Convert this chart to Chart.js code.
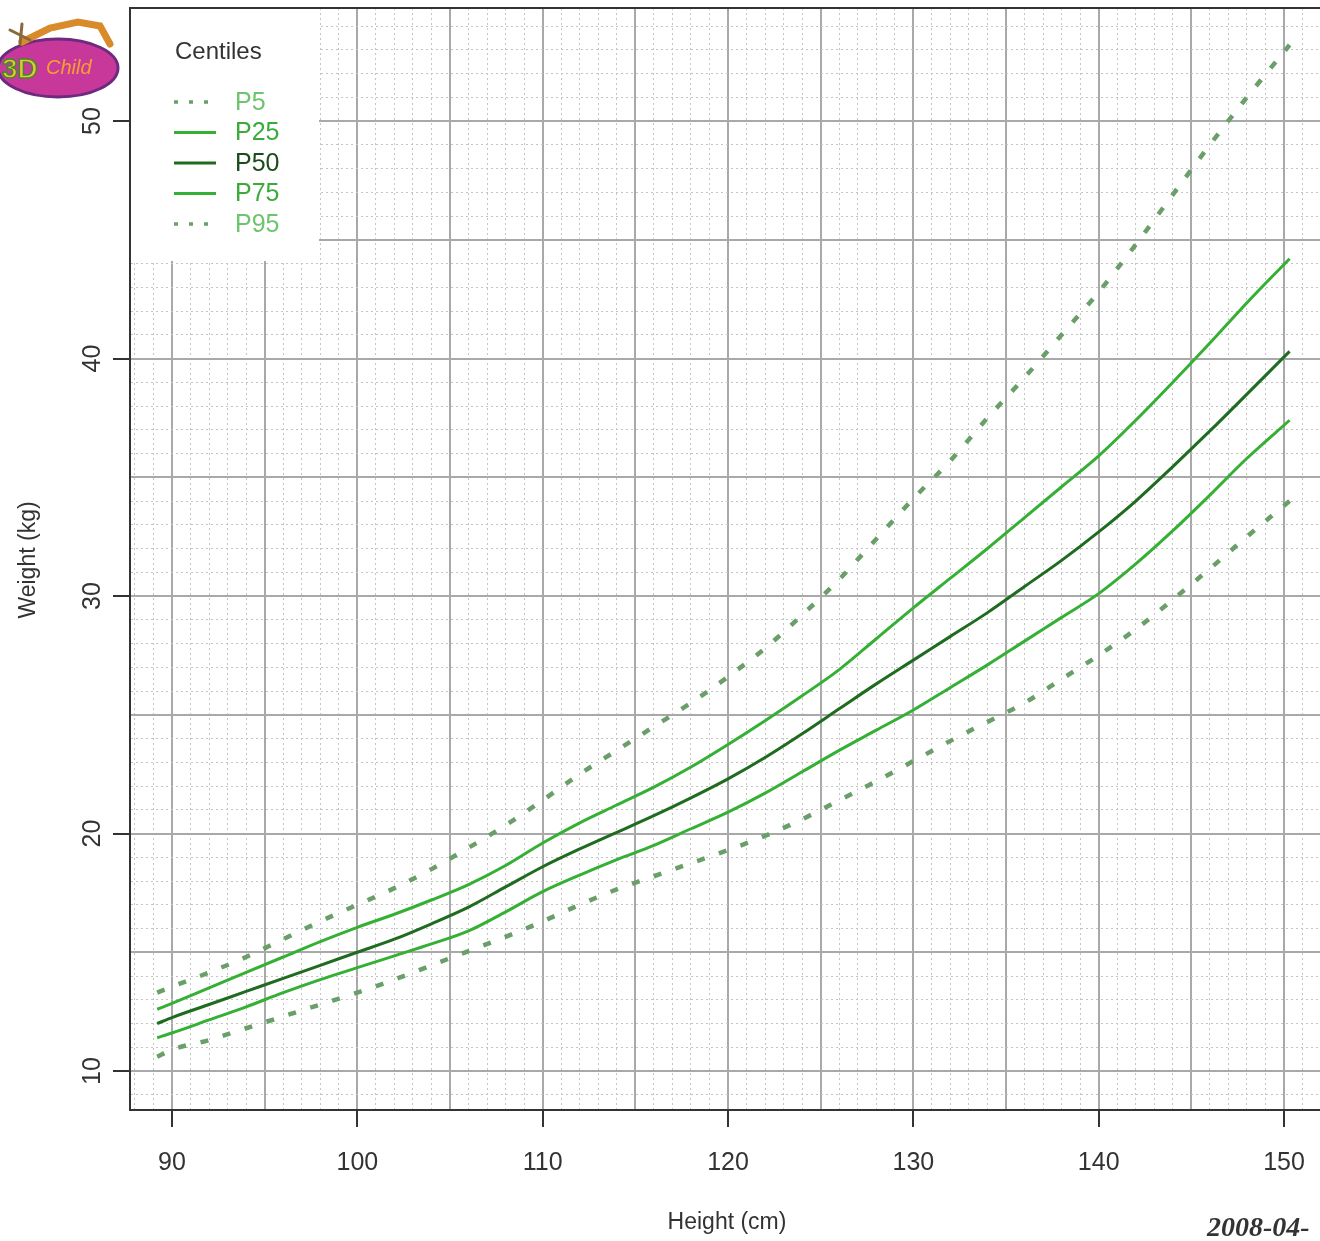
<!DOCTYPE html>
<html><head><meta charset="utf-8">
<script src="https://cdn.jsdelivr.net/npm/chart.js@4/dist/chart.umd.min.js"></script>
<style>html,body{margin:0;padding:0;background:#fff;overflow:hidden}canvas{display:block}</style>
</head><body>
<canvas id="c" width="1320" height="1241"></canvas>
<script>
// ---- data ----
const heights = [89.2,90,92,94,96,98,100,102,104,106,108,110,112,114,116,118,120,122,124,126,128,130,132,134,136,138,140,142,144,146,148,150.3];
const p5  = [10.6,10.9,11.3,11.8,12.3,12.8,13.3,13.85,14.45,15.05,15.65,16.3,17.0,17.65,18.2,18.75,19.3,19.9,20.6,21.4,22.2,23.05,23.9,24.7,25.5,26.5,27.5,28.6,29.85,31.15,32.5,34.0];
const p25 = [11.4,11.6,12.15,12.7,13.3,13.85,14.35,14.85,15.35,15.9,16.7,17.55,18.25,18.9,19.5,20.2,20.9,21.7,22.6,23.5,24.35,25.2,26.15,27.1,28.1,29.1,30.1,31.35,32.75,34.25,35.8,37.4];
const p50 = [12.0,12.25,12.8,13.35,13.9,14.45,15.0,15.55,16.2,16.9,17.75,18.6,19.35,20.05,20.75,21.5,22.3,23.2,24.2,25.25,26.3,27.3,28.3,29.3,30.4,31.5,32.7,34.0,35.45,36.95,38.5,40.3];
const p75 = [12.6,12.85,13.5,14.15,14.8,15.45,16.05,16.6,17.2,17.85,18.65,19.6,20.45,21.2,21.95,22.8,23.75,24.75,25.8,26.9,28.2,29.5,30.75,32.0,33.3,34.6,35.9,37.4,39.0,40.65,42.35,44.2];
const p95 = [13.3,13.55,14.15,14.8,15.55,16.3,17.0,17.7,18.5,19.4,20.35,21.4,22.5,23.5,24.5,25.5,26.6,27.8,29.2,30.7,32.4,34.1,35.7,37.5,39.2,41.0,42.8,44.8,46.9,49.0,51.0,53.2];
const centileLabels = ['P5','P25','P50','P75','P95'];
const xTickLabels = [90,100,110,120,130,140,150];
const yTickLabels = [10,20,30,40,50];
const xTitle = 'Height (cm)';
const yTitle = 'Weight (kg)';
const legendTitle = 'Centiles';
const dateText = '2008-04-';

// ---- styles ----
const DOT = '#6a9f6a', MID = '#35b035', DARK = '#1f6b1f';
const styles = [
  {color: DOT,  width: 4.5, dash: [8,15], text: '#6cc46c'},
  {color: MID,  width: 3,   dash: [],     text: '#3aaa3a'},
  {color: DARK, width: 3,   dash: [],     text: '#1c4c1c'},
  {color: MID,  width: 3,   dash: [],     text: '#3aaa3a'},
  {color: DOT,  width: 4.5, dash: [8,15], text: '#6cc46c'}
];
const series = [p5, p25, p50, p75, p95];
const FONT = '"Liberation Sans", Arial, sans-serif';
const TXT = '#333';

const datasets = series.map((s, i) => ({
  label: centileLabels[i],
  data: heights.map((h, j) => ({x: h, y: s[j]})),
  borderColor: styles[i].color,
  borderWidth: styles[i].width,
  borderDash: styles[i].dash,
  pointRadius: 0,
  fill: false,
  cubicInterpolationMode: 'monotone'
}));

const xMin = 87.734, xMax = 151.94, yMin = 8.358, yMax = 54.758;
function intRange(a, b){ const r=[]; for(let v=Math.ceil(a); v<=Math.floor(b); v++) r.push(v); return r; }

const decor = {
  id: 'decor',
  afterDatasetsDraw(chart) {
    const ctx = chart.ctx, ca = chart.chartArea;
    ctx.save();
    // legend box
    ctx.fillStyle = '#fff';
    ctx.fillRect(ca.left + 1, ca.top + 1, 188, 252);
    ctx.fillStyle = TXT;
    ctx.font = '24px ' + FONT;
    ctx.textBaseline = 'middle';
    ctx.textAlign = 'left';
    ctx.fillText(legendTitle, 175, 52);
    centileLabels.forEach((lab, i) => {
      const y = 102 + i * 30.5;
      const st = styles[i];
      ctx.beginPath();
      ctx.strokeStyle = st.color;
      ctx.lineWidth = st.dash.length ? 3.5 : 3;
      ctx.setLineDash(st.dash.length ? [4, 11] : []);
      ctx.moveTo(174, y); ctx.lineTo(216, y);
      ctx.stroke();
      ctx.setLineDash([]);
      ctx.fillStyle = st.text;
      ctx.font = '25px ' + FONT;
      ctx.fillText(lab, 235, y + 1);
    });
    ctx.restore();
  },
  afterDraw(chart) {
    const ctx = chart.ctx, ca = chart.chartArea;
    const ys = chart.scales.y;
    ctx.save();
    // top frame line
    ctx.strokeStyle = '#333';
    ctx.lineWidth = 2;
    ctx.beginPath();
    ctx.moveTo(ca.left, ca.top); ctx.lineTo(ca.right, ca.top);
    ctx.stroke();
    // y tick labels (rotated)
    ctx.fillStyle = TXT;
    ctx.font = '25px ' + FONT;
    ctx.textAlign = 'center';
    ctx.textBaseline = 'middle';
    yTickLabels.forEach(v => {
      const py = ys.getPixelForValue(v);
      ctx.save();
      ctx.translate(93, py);
      ctx.rotate(-Math.PI / 2);
      ctx.fillText(String(v), 0, 0);
      ctx.restore();
    });
    // y title
    ctx.save();
    ctx.translate(29, 560);
    ctx.rotate(-Math.PI / 2);
    ctx.font = '23px ' + FONT;
    ctx.fillText(yTitle, 0, 0);
    ctx.restore();
    // x title
    ctx.font = '23px ' + FONT;
    ctx.fillText(xTitle, 727, 1223);
    // date
    ctx.textAlign = 'left';
    ctx.font = 'italic bold 28px "Liberation Serif", serif';
    ctx.fillText(dateText, 1207, 1229);
    // logo
    ctx.fillStyle = '#c8389a';
    ctx.strokeStyle = '#6e2a7e';
    ctx.lineWidth = 3;
    ctx.beginPath();
    ctx.ellipse(58, 68, 60, 29, 0, 0, Math.PI * 2);
    ctx.fill(); ctx.stroke();
    ctx.strokeStyle = '#d98a2a';
    ctx.lineWidth = 7;
    ctx.lineCap = 'round';
    ctx.beginPath();
    ctx.moveTo(22, 42); ctx.lineTo(50, 28); ctx.lineTo(78, 22); ctx.lineTo(100, 26); ctx.lineTo(110, 44);
    ctx.stroke();
    ctx.lineWidth = 3;
    ctx.strokeStyle = '#8a6a3a';
    ctx.beginPath();
    ctx.moveTo(10, 30); ctx.lineTo(30, 40); ctx.moveTo(22, 24); ctx.lineTo(20, 44);
    ctx.stroke();
    ctx.font = 'bold 28px ' + FONT;
    ctx.fillStyle = '#f0c030';
    ctx.strokeStyle = '#3a8a30';
    ctx.lineWidth = 1.5;
    ctx.fillText('3D', 2, 70);
    ctx.strokeText('3D', 2, 70);
    ctx.font = 'italic 20px ' + FONT;
    ctx.fillStyle = '#f4a030';
    ctx.fillText('Child', 46, 68);
    ctx.restore();
  }
};

new Chart(document.getElementById('c'), {
  type: 'line',
  data: { datasets },
  plugins: [decor],
  options: {
    responsive: false,
    devicePixelRatio: 1,
    animation: false,
    layout: { padding: { top: 8, right: 0, left: 0, bottom: 0 } },
    plugins: { legend: { display: false }, tooltip: { enabled: false } },
    scales: {
      x: {
        type: 'linear', min: xMin, max: xMax,
        afterBuildTicks(s) { s.ticks = intRange(xMin, xMax).map(v => ({value: v})); },
        afterFit(s) { s.height = 131; s.paddingLeft = 0; s.paddingRight = 0; },
        grid: {
          color: c => (c.tick && c.tick.value % 5 === 0) ? '#a9a9a9' : '#c4c4c4',
          lineWidth: c => (c.tick && c.tick.value % 5 === 0) ? 2 : 1,
          tickLength: 17,
          tickWidth: 2,
          tickColor: c => (c.tick && xTickLabels.includes(c.tick.value)) ? '#333' : 'rgba(0,0,0,0)'
        },
        border: {
          display: true, color: '#333', width: 2,
          dash: c => (c.type === 'tick' && c.tick.value % 5 !== 0) ? [2, 3] : []
        },
        ticks: {
          autoSkip: false, maxRotation: 0, minRotation: 0, padding: 21,
          color: TXT, font: { family: FONT, size: 25 },
          callback: v => xTickLabels.includes(v) ? String(v) : ''
        }
      },
      y: {
        type: 'linear', min: yMin, max: yMax,
        afterBuildTicks(s) { s.ticks = intRange(yMin, yMax).map(v => ({value: v})); },
        afterFit(s) { s.width = 130; s.paddingTop = 0; s.paddingBottom = 0; },
        grid: {
          color: c => (c.tick && c.tick.value % 5 === 0) ? '#a9a9a9' : '#c4c4c4',
          lineWidth: c => (c.tick && c.tick.value % 5 === 0) ? 2 : 1,
          tickLength: 17,
          tickWidth: 2,
          tickColor: c => (c.tick && yTickLabels.includes(c.tick.value)) ? '#333' : 'rgba(0,0,0,0)'
        },
        border: {
          display: true, color: '#333', width: 2,
          dash: c => (c.type === 'tick' && c.tick.value % 5 !== 0) ? [2, 3] : []
        },
        ticks: { display: false }
      }
    }
  }
});
</script>
</body></html>
